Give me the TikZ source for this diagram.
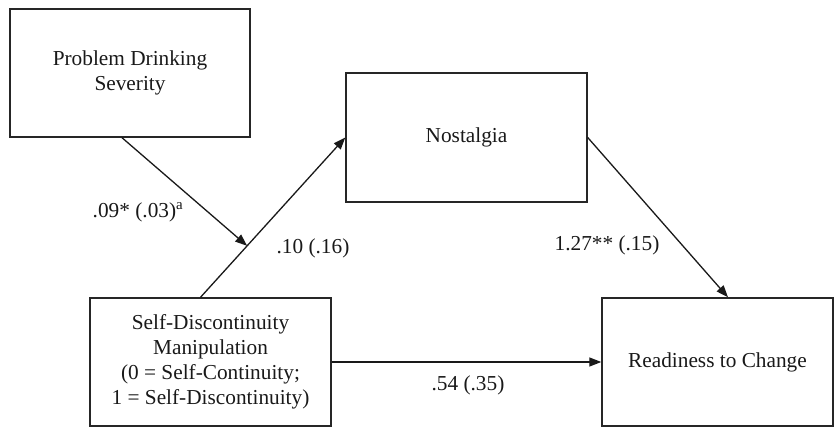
\documentclass[tikz,border=0pt]{standalone}
\usepackage{fontspec}
\setmainfont{Liberation Serif}
\usetikzlibrary{arrows.meta,calc}
\begin{document}
\begin{tikzpicture}[x=1pt,y=-1pt,
  box/.style={draw=black!85,line width=1.4pt,rectangle,align=center,inner sep=0pt,
    font=\fontsize{21.3}{25}\selectfont,text=black!90},
  conn/.style={draw=black!90,line width=1.3pt,-{Triangle[length=12pt,width=9pt]}},
  lbl/.style={font=\fontsize{21.3}{25}\selectfont,text=black!90,inner sep=0pt}]
\useasboundingbox (0,0) rectangle (834,427);
\node[box,minimum width=240pt,minimum height=128pt] (pds) at (130,73) {Problem Drinking\\Severity};
\node[box,minimum width=241pt,minimum height=128pt] (sdm) at (210.5,362) {Self-Discontinuity\\Manipulation\\(0 = Self-Continuity;\\1 = Self-Discontinuity)};
\node[box,minimum width=241pt,minimum height=129pt] (nos) at (466.5,137.5) {Nostalgia};
\node[box,minimum width=231pt,minimum height=128pt] (rc) at (717.5,362) {Readiness to Change};
\path ([xshift=-10pt]sdm.north) -- (nos.west) coordinate[pos=0.322] (m);
\draw[conn] ([xshift=-10pt]sdm.north) -- (nos.west);
\draw[conn] ([xshift=-8pt]pds.south) -- (m);
\draw[conn] (nos.east) -- ([xshift=10.5pt]rc.north);
\draw[conn] (sdm.east) -- (rc.west);
\node[lbl] (l1) at (138,212) {.09* (.03)\textsuperscript{a}};
\node[lbl] (l2) at (313,248) {.10 (.16)};
\node[lbl] (l3) at (607,245) {1.27** (.15)};
\node[lbl] (l4) at (468,385) {.54 (.35)};
\end{tikzpicture}
\end{document}
